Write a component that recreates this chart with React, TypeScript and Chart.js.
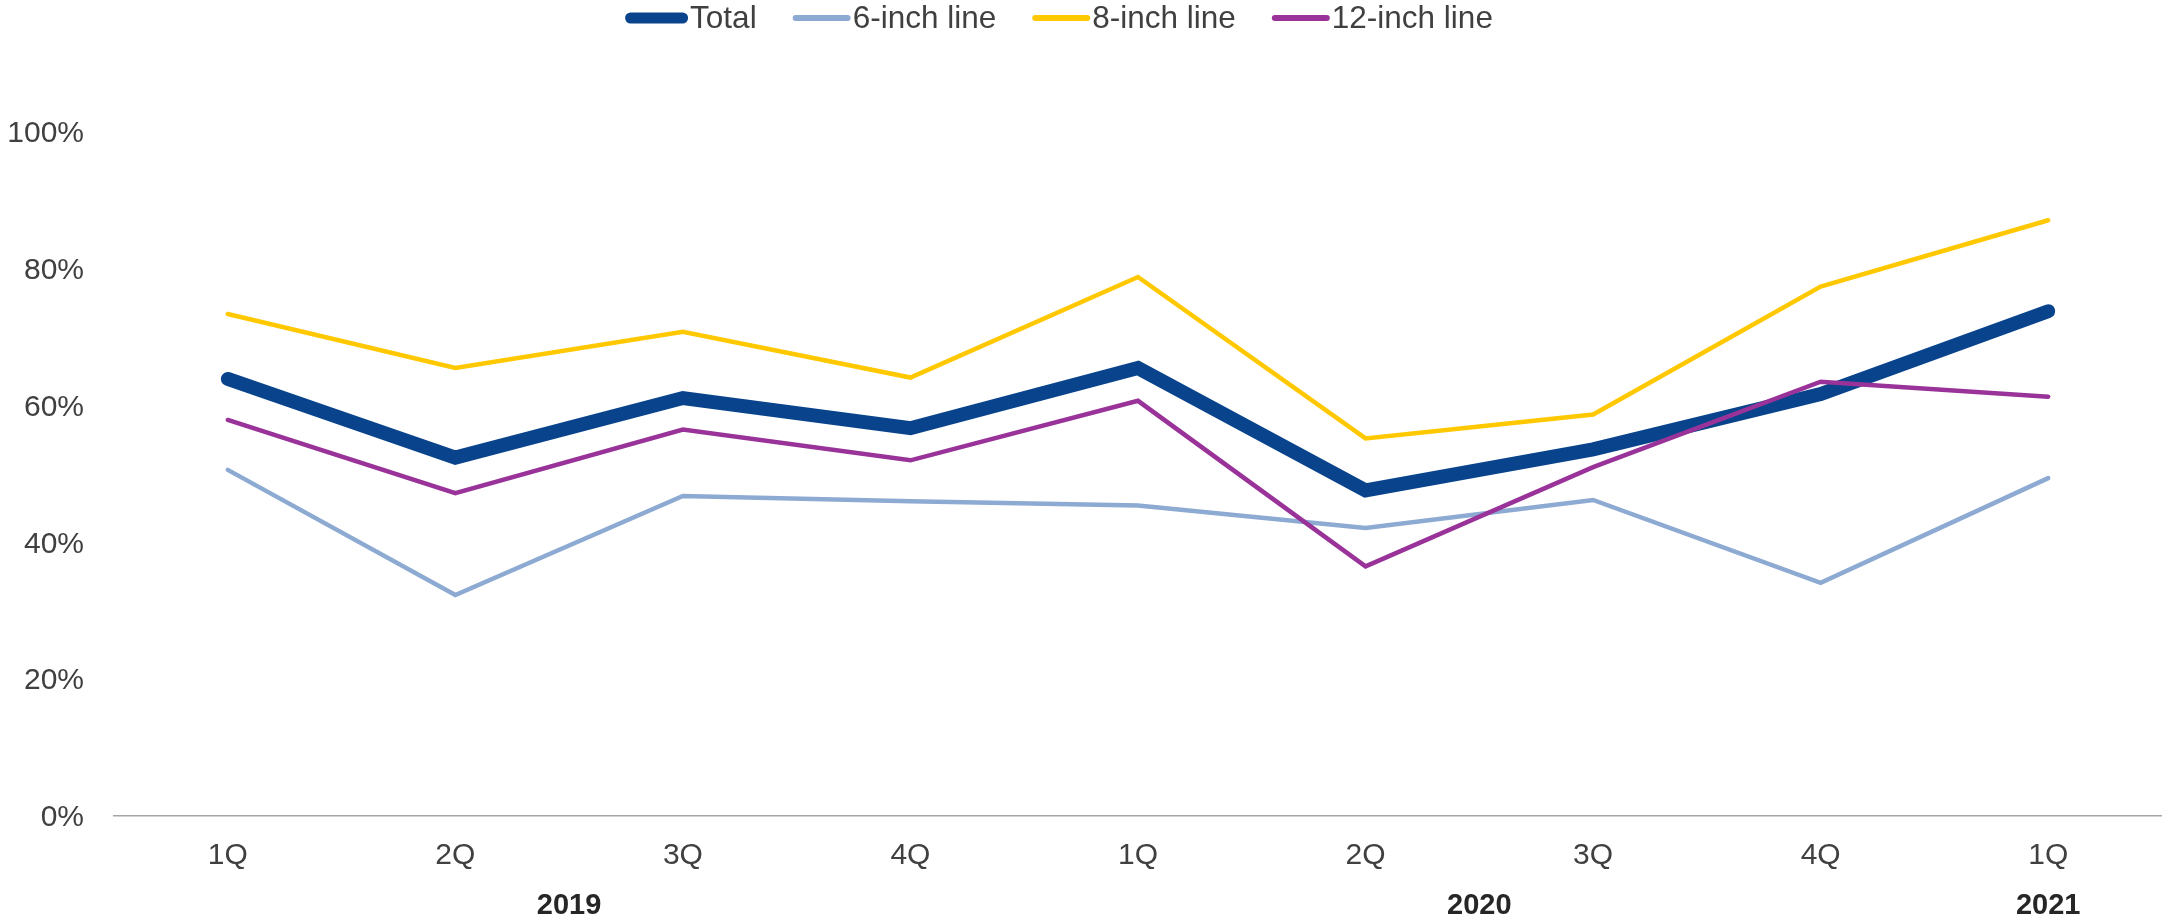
import React, { useEffect, useRef } from 'react';
import { Chart, registerables } from 'chart.js';

Chart.register(...registerables);

const quarterLabels = ['1Q', '2Q', '3Q', '4Q', '1Q', '2Q', '3Q', '4Q', '1Q'];
const yearLabels = ['2019', '2020', '2021'];
const yearFirstIndex = [0, 4, 8];
const yearLastIndex = [3, 7, 8];

const seriesNames = ['Total', '6-inch line', '8-inch line', '12-inch line'];
const totalValues = [63.9, 52.4, 61.1, 56.7, 65.5, 47.6, 53.6, 61.7, 73.8];
const sixInchValues = [50.6, 32.3, 46.8, 46.0, 45.4, 42.1, 46.2, 34.1, 49.4];
const eightInchValues = [73.4, 65.5, 70.8, 64.1, 78.8, 55.2, 58.7, 77.4, 87.1];
const twelveInchValues = [57.9, 47.2, 56.5, 52.0, 60.7, 36.5, 51.0, 63.5, 61.3];

const yMin = 0;
const yMax = 100;
const yStep = 20;

const FONT = "Arial, 'Liberation Sans', Helvetica, sans-serif";
const TEXT_COLOR = '#404040';

const colors = ['#08438C', '#8DAAD2', '#FFC800', '#993399'];
const widths = [14, 4.5, 4.5, 4.5];

const legendPlugin = {
  id: 'customLegend',
  afterDraw(chart: any) {
    const ctx = chart.ctx;
    ctx.save();
    ctx.font = `31.5px ${FONT}`;
    ctx.textBaseline = 'middle';
    ctx.textAlign = 'left';
    const sampleLen = 52;
    const textGap = 2;
    const itemGap = 36;
    const items = chart.data.datasets.map((ds: any) => {
      const capR = ds.legendWidth / 2;
      const tw = ctx.measureText(ds.label).width;
      return { ds, capR, tw, w: capR * 2 + sampleLen + textGap + tw };
    });
    const total = items.reduce((s: number, it: any) => s + it.w, 0) + itemGap * (items.length - 1);
    let x = 1059 - total / 2;
    const y = 18;
    items.forEach((it: any) => {
      ctx.strokeStyle = it.ds.borderColor;
      ctx.lineWidth = it.ds.legendWidth;
      ctx.lineCap = 'round';
      ctx.beginPath();
      ctx.moveTo(x + it.capR, y);
      ctx.lineTo(x + it.capR + sampleLen, y);
      ctx.stroke();
      ctx.fillStyle = TEXT_COLOR;
      ctx.fillText(it.ds.label, x + it.capR * 2 + sampleLen + textGap, y + 1);
      x += it.w + itemGap;
    });
    ctx.restore();
  },
};

const yearPlugin = {
  id: 'yearLabels',
  afterDraw(chart: any) {
    const ctx = chart.ctx;
    const xs = chart.scales.x;
    ctx.save();
    ctx.font = `bold 29px ${FONT}`;
    ctx.fillStyle = '#262626';
    ctx.textAlign = 'center';
    ctx.textBaseline = 'middle';
    yearLabels.forEach((lab, i) => {
      const cx = (xs.getPixelForValue(yearFirstIndex[i]) + xs.getPixelForValue(yearLastIndex[i])) / 2;
      ctx.fillText(lab, cx, 906);
    });
    ctx.restore();
  },
};

export default function App() {
  const ref = useRef<HTMLCanvasElement | null>(null);
  useEffect(() => {
    document.body.style.margin = '0';
    const canvas = ref.current!;
    const values = [totalValues, sixInchValues, eightInchValues, twelveInchValues];
    const legendWidths = [11, 6, 6, 6];
    const chart = new Chart(canvas, {
      type: 'line',
      data: {
        labels: quarterLabels,
        datasets: values.map((v, i) => ({
          label: seriesNames[i],
          data: v,
          borderColor: colors[i],
          backgroundColor: colors[i],
          borderWidth: widths[i],
          legendWidth: legendWidths[i],
          pointRadius: 0,
          pointHoverRadius: 0,
          tension: 0,
          fill: false,
          borderCapStyle: 'round',
          borderJoinStyle: 'miter',
          order: 4 - i,
        })) as any,
      },
      options: {
        animation: false,
        responsive: false,
        maintainAspectRatio: false,
        layout: { padding: { top: 132, left: 0, right: 0, bottom: 0 } },
        plugins: {
          legend: { display: false },
          tooltip: { enabled: false },
        },
        scales: {
          x: {
            offset: true,
            grid: { display: false, drawTicks: false },
            border: { display: true, color: '#A6A6A6', width: 1.5 },
            ticks: {
              color: TEXT_COLOR,
              font: { family: FONT, size: 30 },
              padding: 22,
              maxRotation: 0,
              autoSkip: false,
            },
            afterFit(scale: any) {
              scale.height = 102;
            },
          },
          y: {
            min: yMin,
            max: yMax,
            grid: { display: false, drawTicks: false },
            border: { display: false },
            ticks: {
              stepSize: yStep,
              color: TEXT_COLOR,
              font: { family: FONT, size: 30 },
              padding: 30,
              labelOffset: 2,
              callback: (v: any) => `${v}%`,
            },
            afterFit(scale: any) {
              scale.width = 114;
            },
          },
        },
      },
      plugins: [legendPlugin, yearPlugin],
    });
    return () => chart.destroy();
  }, []);
  return <canvas ref={ref} width={2162} height={918} style={{ display: 'block' }} />;
}
